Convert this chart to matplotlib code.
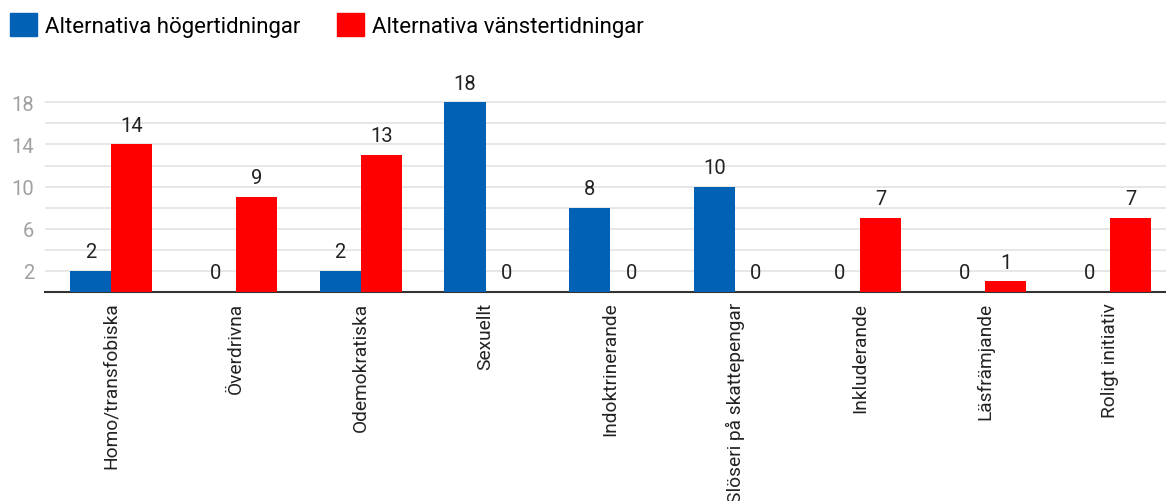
import matplotlib
matplotlib.use("Agg")
import matplotlib.pyplot as plt
from matplotlib.patches import Patch
import numpy as np

plt.rcParams['font.family'] = ['Roboto', 'DejaVu Sans']

# data
kategorier = ["Homo/transfobiska", "Överdrivna", "Odemokratiska", "Sexuellt",
              "Indoktrinerande", "Slöseri på skattepengar", "Inkluderande",
              "Läsfrämjande", "Roligt initiativ"]
hoger = [2, 0, 2, 18, 8, 10, 0, 0, 0]
vanster = [14, 9, 13, 0, 0, 0, 7, 1, 7]
serienamn = ["Alternativa högertidningar", "Alternativa vänstertidningar"]
yticks = [2, 6, 10, 14, 18]

blue = "#0061b5"
red = "#ff0000"

fig = plt.figure(figsize=(11.66, 5.02), dpi=100)
ax = fig.add_axes([45/1166, 1 - 293/502, 1 - 45/1166, 195/502])

x = np.arange(len(kategorier))
w = 0.33
b1 = ax.bar(x - w/2, hoger, w, color=blue, zorder=3)
b2 = ax.bar(x + w/2, vanster, w, color=red, zorder=3)
for b in (b1, b2):
    ax.bar_label(b, padding=7, fontsize=14.5, color="#222222")

ax.set_xlim(-0.53, 8.45)
ax.set_ylim(0, 18.5)
ax.set_yticks(yticks)
ax.set_yticks(range(2, 19, 2), minor=True)
ax.yaxis.grid(True, which="both", color="#e3e3e3", linewidth=1.2, zorder=0)
ax.tick_params(axis="y", which="both", length=0, labelsize=14.5,
               labelcolor="#a0a0a0", pad=8)
ax.set_xticks(x)
ax.set_xticklabels(kategorier, rotation=90, fontsize=13.8, color="#222222")
ax.tick_params(axis="x", length=0, pad=7)
for s in ["top", "right", "left"]:
    ax.spines[s].set_visible(False)
ax.spines["bottom"].set_color("#333333")
ax.spines["bottom"].set_linewidth(1.5)

handles = [Patch(color=blue), Patch(color=red)]
fig.legend(handles, serienamn, loc="upper left", bbox_to_anchor=(0.0, 0.992),
           ncol=2, frameon=False, fontsize=16, handlelength=1.2,
           handleheight=1.2, handletextpad=0.36, columnspacing=1.67,
           borderaxespad=0.05)

fig.savefig("out.png", dpi=100)
